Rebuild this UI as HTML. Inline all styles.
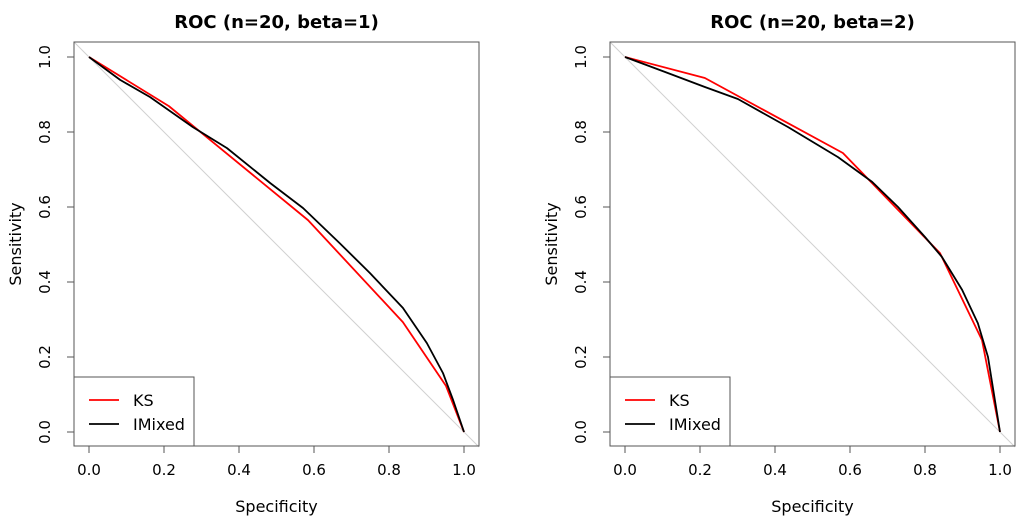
<!DOCTYPE html>
<html><head><meta charset="utf-8"><style>
body{margin:0;background:#fff;}
svg text{font-family:"DejaVu Sans","Liberation Sans",sans-serif;fill:#000;}
</style></head><body>
<svg id="chart" width="1024" height="524" xmlns="http://www.w3.org/2000/svg"></svg>
<script>
const ticks=[0,0.2,0.4,0.6,0.8,1.0];
const tickLabels=["0.0","0.2","0.4","0.6","0.8","1.0"];
const titles=["ROC (n=20, beta=1)","ROC (n=20, beta=2)"];
const ksSpec1=[0,0.213,0.584,0.837,0.952,1];
const ksSens1=[1,0.869,0.565,0.293,0.123,0];
const imSpec1=[0,0.083,0.163,0.277,0.368,0.483,0.571,0.669,0.749,0.837,0.901,0.944,0.971,1];
const imSens1=[1,0.939,0.893,0.813,0.757,0.664,0.597,0.503,0.424,0.331,0.237,0.157,0.085,0];
const ksSpec2=[0,0.213,0.581,0.84,0.952,1];
const ksSens2=[1,0.944,0.744,0.477,0.245,0];
const imSpec2=[0,0.107,0.213,0.301,0.435,0.568,0.659,0.728,0.8,0.845,0.899,0.941,0.968,1];
const imSens2=[1,0.96,0.92,0.888,0.813,0.733,0.667,0.6,0.52,0.467,0.379,0.29,0.2,0];
const series=[[ksSpec1,ksSens1,imSpec1,imSens1],[ksSpec2,ksSens2,imSpec2,imSens2]];
const svg=document.getElementById('chart');
const NS='http://www.w3.org/2000/svg';
function mk(tag,attrs,parent,text){const e=document.createElementNS(NS,tag);for(const k in attrs)e.setAttribute(k,attrs[k]);if(text!==undefined)e.textContent=text;(parent||svg).appendChild(e);return e;}
[0,1].forEach(p=>{
  const x0=p?625:89, x1=p?1000:464, y0=432, y1=57;
  const sx=v=>x0+v*(x1-x0), sy=v=>y0-v*(y0-y1);
  const bl=x0-15, br=x1+15, bt=42, bb=446;
  const g=mk('g',{});
  
  
  const t=mk('text',{x:(bl+br)/2,y:28,'text-anchor':'middle','font-size':18,'font-weight':'bold'},g,titles[p]);
  
  
  const d=mk('line',{x1:bl,y1:sy(1+(x0-bl)/(x1-x0)),x2:br,y2:sy(-(br-x1)/(x1-x0)),stroke:'#d0d0d0','stroke-width':1},g);
  
  
  const box=mk('rect',{x:bl,y:bt,width:br-bl,height:bb-bt,fill:'none',stroke:'#555','stroke-width':1},g);
  
  
  ticks.forEach((v,i)=>{
    mk('line',{x1:sx(v),y1:bb,x2:sx(v),y2:bb+7,stroke:'#555'},g);
    const xl=mk('text',{x:sx(v),y:475,'text-anchor':'middle','font-size':15},g,tickLabels[i]);
    
    
    mk('line',{x1:bl,y1:sy(v),x2:bl-7,y2:sy(v),stroke:'#555'},g);
    const yl=mk('text',{x:0,y:0,'text-anchor':'middle','font-size':15,transform:`translate(${bl-24},${sy(v)}) rotate(-90)`},g,tickLabels[i]);
    
    
  });
  const xt=mk('text',{x:(bl+br)/2,y:512,'text-anchor':'middle','font-size':16},g,'Specificity');
  
  
  const yt=mk('text',{x:0,y:0,'text-anchor':'middle','font-size':16,transform:`translate(${bl-53},${(bt+bb)/2}) rotate(-90)`},g,'Sensitivity');
  
  
  const s=series[p];
  const line=(xs,ys,c,n)=>{const l=mk('polyline',{points:xs.map((v,i)=>sx(v)+','+sy(ys[i])).join(' '),fill:'none',stroke:c,'stroke-width':1.8,'stroke-linejoin':'round'},g);
    
    };
  line(s[0],s[1],'#ff0000','ks-line');
  line(s[2],s[3],'#000000','imixed-line');
  const lg=mk('g',{},g);
  
  
  mk('rect',{x:bl,y:377,width:120,height:bb-377,fill:'#fff',stroke:'#555'},lg);
  mk('line',{x1:bl+15,y1:400,x2:bl+45,y2:400,stroke:'#ff0000','stroke-width':1.8},lg);
  mk('line',{x1:bl+15,y1:424,x2:bl+45,y2:424,stroke:'#000','stroke-width':1.8},lg);
  const e1=mk('text',{x:bl+59,y:406,'font-size':16},lg,'KS');
  
  
  const e2=mk('text',{x:bl+59,y:430,'font-size':16},lg,'IMixed');
  
  
});
</script>
</body></html>
